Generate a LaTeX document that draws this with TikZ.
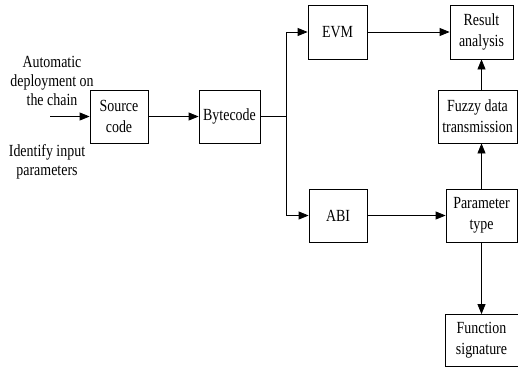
\documentclass[tikz,border=0pt]{standalone}
\usepackage{fontspec}
\setmainfont{Liberation Serif}
\newfontfamily\tallfont[FakeStretch=0.82]{Liberation Serif}
\usetikzlibrary{arrows.meta}
\begin{document}
\begin{tikzpicture}[x=1pt,y=-1pt,
  box/.style={draw, line width=0.8pt, inner sep=0pt, align=center,
    font=\tallfont\fontsize{17}{21}\selectfont},
  lbl/.style={inner sep=0pt, align=center, font=\tallfont\fontsize{17}{19}\selectfont},
  arr/.style={line width=0.8pt, -{Triangle[length=10pt,width=8pt]}},
  ln/.style={line width=0.8pt}]
\useasboundingbox (0,0) rectangle (518,367);
\node[box, minimum width=58pt, minimum height=53pt] (src) at (119,116.5) {Source\\code};
\node[box, minimum width=61pt, minimum height=53pt] (byte) at (229.5,116.5) {Bytecode};
\node[box, minimum width=59pt, minimum height=54pt] (evm) at (337.5,32) {EVM};
\node[box, minimum width=58pt, minimum height=53pt] (abi) at (338,215.5) {ABI};
\node[box, minimum width=63pt, minimum height=54pt] (res) at (481.5,32) {Result\\analysis};
\node[box, minimum width=79pt, minimum height=53pt] (fuzzy) at (477.5,116.5) {Fuzzy data\\transmission};
\node[box, minimum width=71pt, minimum height=53pt] (param) at (481.5,215.5) {Parameter\\type};
\node[box, minimum width=73pt, minimum height=52pt] (func) at (481.5,340.5) {Function\\signature};
\node[lbl] (auto) at (52,81) {Automatic\\deployment on\\the chain};
\node[lbl] (ident) at (47,162) {Identify input\\parameters};
\coordinate (in) at (50,116.5);
\coordinate (br) at (286,116.5);
\draw[arr] (in) -- (src.west);
\draw[arr] (src.east) -- (byte.west);
\draw[ln] (byte.east) -- (br);
\draw[arr] (br) |- (evm.west);
\draw[arr] (br) |- (abi.west);
\draw[arr] (evm.east) -- (res.west);
\draw[arr] (abi.east) -- (param.west);
\draw[arr] (param.north) -- (fuzzy.south -| param.north);
\draw[arr] (fuzzy.north -| res.south) -- (res.south);
\draw[arr] (param.south) -- (func.north);
\end{tikzpicture}
\end{document}
